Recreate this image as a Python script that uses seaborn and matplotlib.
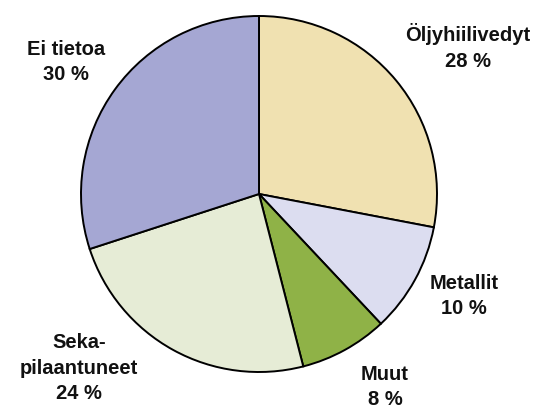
import matplotlib

matplotlib.use("Agg")
import matplotlib.pyplot as plt
import seaborn as sns

categories = ["Öljyhiilivedyt", "Metallit", "Muut", "Seka-\npilaantuneet", "Ei tietoa"]
shares = [28, 10, 8, 24, 30]
colors = ["#F0E1B1", "#DCDDF0", "#8FB247", "#E6ECD6", "#A5A7D3"]

# label centres in pixel coordinates (x from left, y from top)
label_pos = [(468, 47), (464, 296), (385, 387), (79, 368), (66, 62)]

sns.set_theme(style="white")
plt.rcParams["font.family"] = ["Liberation Sans", "DejaVu Sans"]

W, H = 537, 409
fig = plt.figure(figsize=(W / 100, H / 100), dpi=100)
fig.patch.set_facecolor("white")

# pie centre and radius in pixels
cx, cy, r = 259, 194, 178
ax = fig.add_axes([(cx - r) / W, (H - cy - r) / H, 2 * r / W, 2 * r / H])
wedges, _ = ax.pie(
    shares,
    colors=colors,
    startangle=90,
    counterclock=False,
    radius=1,
    wedgeprops={"edgecolor": "black", "linewidth": 1.4},
)
for w in wedges:
    w.set_clip_on(False)
ax.set_xlim(-1, 1)
ax.set_ylim(-1, 1)
ax.set_aspect("equal")
ax.axis("off")

for name, val, (px, py) in zip(categories, shares, label_pos):
    fig.text(
        px / W,
        1 - py / H,
        f"{name}\n{val} %",
        ha="center",
        va="center",
        fontsize=14.5,
        fontweight="bold",
        linespacing=1.45,
        color="#111111",
    )

fig.savefig("out.png", dpi=100, facecolor="white")
